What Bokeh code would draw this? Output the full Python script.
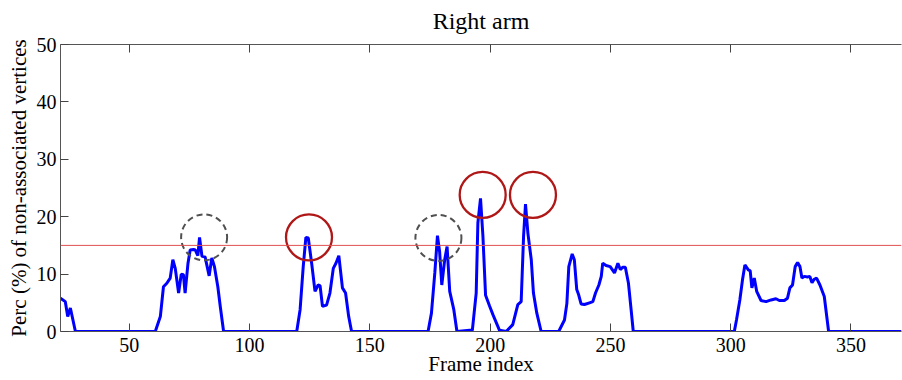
from bokeh.plotting import figure
from bokeh.models import Span, LinearAxis, Range1d, FixedTicker
from bokeh.embed import file_html
from bokeh.resources import INLINE

frames = [21.4, 23.4, 24.4, 25.5, 27.6, 60.8, 62.9, 64.2, 65.6, 67, 68.1, 69.1, 70.5, 71.6, 72.5, 73.2,
          74.4, 75.3, 76.7, 77.4, 78.5, 79.2, 80.2, 81.5, 83.2, 84.3, 85.4, 86.8, 87.8, 89.2,
          119.6, 121, 122.3, 123.4, 124.4, 125.8, 127.2, 128.5, 129.3, 130.3, 132, 133.4, 134.8, 135.9,
          137.1, 138.6, 139.9, 141.2, 142.4,
          174.2, 175.6, 177, 178.1, 179, 179.9, 181.1, 182.1, 183.2, 184.9, 186.2, 191.5, 192.6, 194.2,
          194.9, 196.0, 197, 198.1, 199.8, 201.2, 202.5, 203.9, 206.7, 209.4, 211.5, 212.9, 213.9, 214.7,
          215.7, 217.1, 218, 219.4, 221.2,
          228.5, 230.9, 231.9, 232.7, 234.1, 235, 236, 236.8, 237.8, 239.2, 241.3, 242.7, 243.8, 245.2,
          246.2, 246.8, 248.2, 249.9, 251.7, 253.1, 254.1, 255.2, 256.2, 257.5, 258.6, 259.5,
          301.5, 302.4, 303.8, 304.9, 305.9, 307.4, 308.1, 308.8, 309.8, 310.8, 312.6, 314.7, 316.8,
          318.8, 320.2, 322.3, 323.6, 324.6, 325.7, 326.8, 327.8, 328.8, 329.6, 330.6, 331.9, 332.9,
          333.8, 334.7, 335.7, 337.1, 338.9, 340.7, 371]
perc = [5.8, 5.2, 2.6, 4.1, 0, 0, 2.6, 7.8, 8.4, 9.3, 12.5, 11.0, 6.7, 10.0, 9.9, 6.7,
        11.9, 14.2, 14.3, 14.2, 13.2, 16.4, 13.1, 13.0, 9.7, 12.8, 11.3, 7.8, 4.4, 0,
        0, 3.8, 11.3, 16.4, 16.3, 11.9, 7.0, 8.1, 8.0, 4.4, 4.6, 6.7, 11.0, 11.9,
        13.2, 7.6, 6.7, 2.6, 0,
        0, 3.2, 10.2, 16.7, 13.9, 8.1, 12.5, 14.8, 7.0, 3.8, 0, 0.2, 0.2, 6.7,
        18.9, 23.2, 16.6, 6.3, 4.4, 2.9, 1.6, 0.2, 0, 1.2, 4.7, 5.2, 16.6, 22.2,
        17.1, 12.5, 6.7, 3.2, 0,
        0, 2.0, 4.9, 11.3, 13.5, 12.5, 7.3, 6.4, 4.8, 4.7, 5.0, 5.2, 6.7, 8.1,
        9.6, 11.9, 11.5, 11.3, 10.2, 11.9, 10.8, 11.2, 11.2, 8.4, 3.8, 0,
        0, 2.0, 5.5, 9.0, 11.6, 10.7, 10.6, 7.6, 9.3, 7.0, 5.4, 5.2, 5.5,
        5.7, 5.4, 5.4, 5.8, 7.6, 8.1, 11.3, 12.0, 11.3, 9.3, 9.6, 9.5, 9.6,
        8.5, 9.1, 9.3, 8.1, 6.1, 0, 0]

title_text = "Right arm"
threshold = 15
dashed_x = [81.1, 178.5]
dashed_y = [16.4, 16.3]
red_x = [124.7, 196.9, 217.8]
red_y = [16.4, 23.8, 23.8]

x_ticks = [50, 100, 150, 200, 250, 300, 350]
y_ticks = [0, 10, 20, 30, 40, 50]

FONT = "Liberation Serif"

p = figure(width=902, height=380, output_backend="svg", toolbar_location=None,
           x_range=Range1d(21.4, 371), y_range=Range1d(0, 50),
           min_border_left=60, min_border_right=1, min_border_top=44, min_border_bottom=49)

p.grid.visible = False
p.outline_line_color = None
p.background_fill_color = "white"
p.border_fill_color = "white"

for ax in (p.xaxis[0], p.yaxis[0]):
    ax.major_tick_in = 8
    ax.major_tick_out = 0
    ax.minor_tick_line_color = None
    ax.axis_line_color = "#555555"
    ax.major_tick_line_color = "#444444"
    ax.major_label_text_font = FONT
    ax.major_label_text_font_size = "20px"
    ax.major_label_text_color = "black"
    ax.axis_label_text_font = FONT
    ax.axis_label_text_font_size = "21px"
    ax.axis_label_text_font_style = "normal"
    ax.axis_label_text_color = "black"

p.xaxis[0].ticker = FixedTicker(ticks=x_ticks)
p.yaxis[0].ticker = FixedTicker(ticks=y_ticks)
p.xaxis[0].axis_label = "Frame index"
p.yaxis[0].axis_label = "Perc (%) of non-associated vertices"
p.xaxis[0].major_label_standoff = 6
p.xaxis[0].axis_label_standoff = -3
p.yaxis[0].major_label_standoff = 4
p.yaxis[0].axis_label_standoff = 3

# top box edge with inward ticks; the chart title sits above it
top = LinearAxis(ticker=FixedTicker(ticks=x_ticks), major_tick_in=8, major_tick_out=0,
                 minor_tick_line_color=None,
                 major_label_overrides={t: "" for t in x_ticks},
                 major_label_standoff=0, axis_line_color="#555555", major_tick_line_color="#444444",
                 axis_label=title_text, axis_label_standoff=11,
                 axis_label_text_font=FONT, axis_label_text_font_size="24px",
                 axis_label_text_font_style="normal", axis_label_text_color="black")
p.add_layout(top, "above")

p.add_layout(Span(location=threshold, dimension="width", line_color="#e05050", line_width=1))

p.line(frames, perc, line_color="#0000ff", line_width=3)

p.scatter(dashed_x, dashed_y, marker="circle", size=46, fill_color=None,
          line_color="#505050", line_width=2, line_dash="6 4")
p.scatter(red_x, red_y, marker="circle", size=46, fill_color=None,
          line_color="#b01818", line_width=2.3)

open("out.html", "w").write(file_html(p, INLINE))
